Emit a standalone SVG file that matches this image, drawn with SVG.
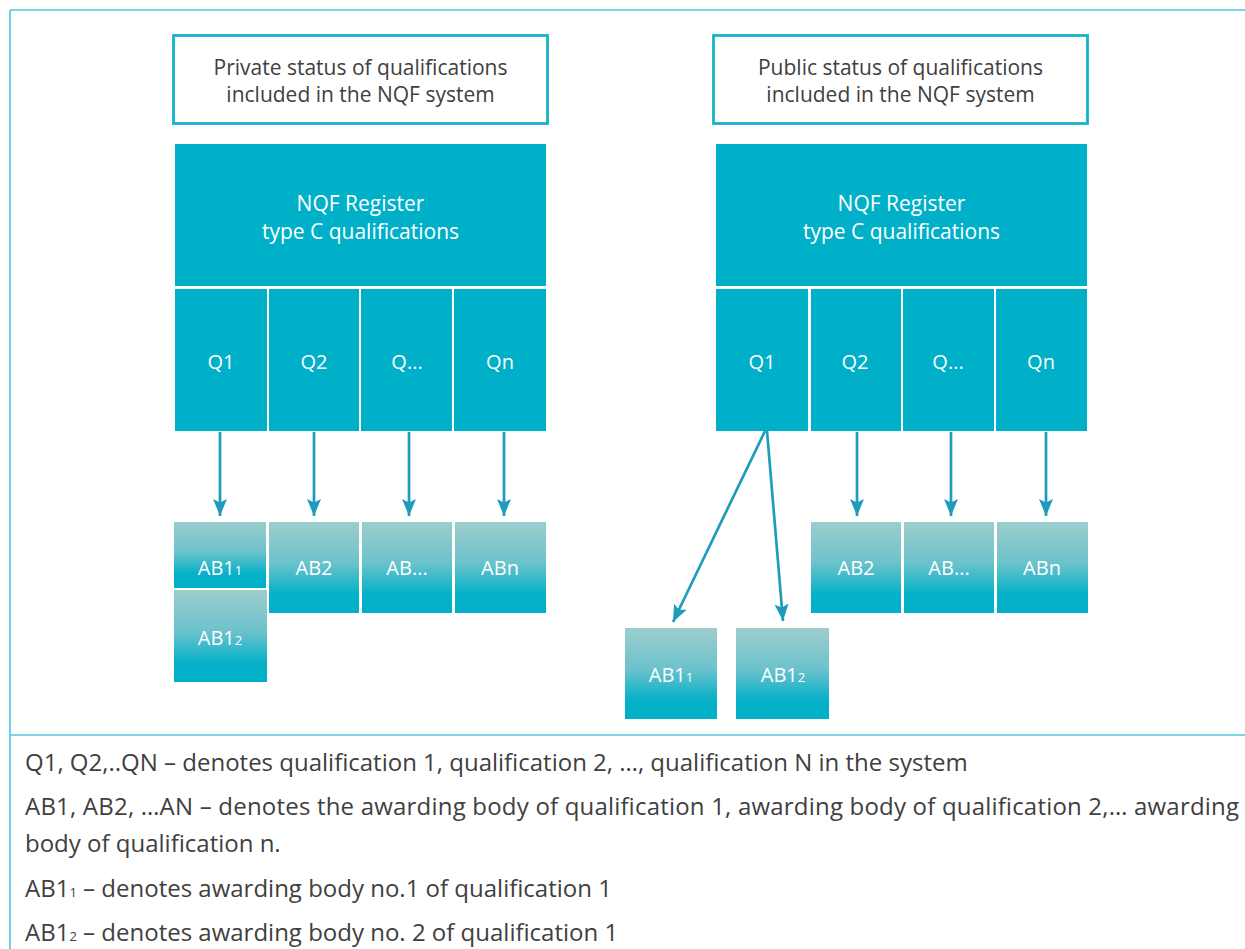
<svg xmlns="http://www.w3.org/2000/svg" width="1245" height="949" viewBox="0 0 1245 949">
  <defs>
    <linearGradient id="abFill" x1="0" y1="0" x2="0" y2="1">
      <stop offset="0" stop-color="#9dcdcd"/>
      <stop offset="0.45" stop-color="#6cc2cc"/>
      <stop offset="0.78" stop-color="#08b1c8"/>
      <stop offset="1" stop-color="#00b0c8"/>
    </linearGradient>
    <marker id="arrowHead" markerUnits="userSpaceOnUse" markerWidth="20" markerHeight="16" viewBox="0 -8 18 16" refX="17" refY="0" orient="auto">
      <path d="M0,-7 L17,0 L0,7 L3.5,0 Z" fill="#1f9bbb"/>
    </marker>
    <style>
      .frame { stroke: #4cc8d8; stroke-width: 1.6; fill: none; }
      .header { fill: #ffffff; stroke: #16b4c9; stroke-width: 2.8; }
      .reg { fill: #00b0c8; }
      .ab { fill: url(#abFill); }
      .dark { font-family: "Open Sans", "Liberation Sans", sans-serif; font-size: 21px; fill: #404040; }
      .title { font-family: "Open Sans", "Liberation Sans", sans-serif; font-size: 21px; fill: #ffffff; }
      .light { font-family: "Open Sans", "Liberation Sans", sans-serif; font-size: 20px; fill: #ffffff; }
      .legend { font-family: "Open Sans", "Liberation Sans", sans-serif; font-size: 24px; fill: #404040; }
      .sub { font-size: 13px; }
      .conn { stroke: #1f9bbb; stroke-width: 2.7; fill: none; marker-end: url(#arrowHead); }
    </style>
  </defs>

  <rect width="1245" height="949" fill="#ffffff"/>

  <!-- outer frame and legend divider -->
  <g id="frame">
    <line class="frame" x1="10" y1="10" x2="1245" y2="10"/>
    <line class="frame" x1="10" y1="10" x2="10" y2="949"/>
    <line class="frame" x1="10" y1="735" x2="1245" y2="735"/>
  </g>

  <!-- private side -->
  <g id="private-header">
    <rect class="header" x="173.5" y="35.5" width="374" height="88"/>
    <text class="dark" text-anchor="middle" x="360.5" y="75">Private status of qualifications</text>
    <text class="dark" text-anchor="middle" x="360.5" y="102">included in the NQF system</text>
  </g>
  <g id="private-register">
    <rect class="reg" x="175" y="144" width="371" height="142"/>
    <text class="title" text-anchor="middle" x="360.5" y="211">NQF Register</text>
    <text class="title" text-anchor="middle" x="360.5" y="239">type C qualifications</text>
  </g>
  <g id="private-q1"><rect class="reg" x="175" y="289" width="92" height="142"/><text class="light" text-anchor="middle" x="221" y="369">Q1</text></g>
  <g id="private-q2"><rect class="reg" x="269" y="289" width="90" height="142"/><text class="light" text-anchor="middle" x="314" y="369">Q2</text></g>
  <g id="private-qdots"><rect class="reg" x="361" y="289" width="91" height="142"/><text class="light" text-anchor="middle" x="407" y="369">Q...</text></g>
  <g id="private-qn"><rect class="reg" x="454" y="289" width="92" height="142"/><text class="light" text-anchor="middle" x="500" y="369">Qn</text></g>

  <g id="private-ab1-1"><rect class="ab" x="174" y="522" width="92" height="66"/><text class="light" text-anchor="middle" x="220" y="575">AB1<tspan class="sub">1</tspan></text></g>
  <g id="private-ab1-2"><rect class="ab" x="174" y="590" width="93" height="92"/><text class="light" text-anchor="middle" x="220" y="645">AB1<tspan class="sub">2</tspan></text></g>
  <g id="private-ab2"><rect class="ab" x="269" y="522" width="90" height="91"/><text class="light" text-anchor="middle" x="314" y="575">AB2</text></g>
  <g id="private-abdots"><rect class="ab" x="362" y="522" width="90" height="91"/><text class="light" text-anchor="middle" x="407" y="575">AB...</text></g>
  <g id="private-abn"><rect class="ab" x="455" y="522" width="91" height="91"/><text class="light" text-anchor="middle" x="500" y="575">ABn</text></g>

  <!-- public side -->
  <g id="public-header">
    <rect class="header" x="713.5" y="35.5" width="374" height="88"/>
    <text class="dark" text-anchor="middle" x="900.5" y="75">Public status of qualifications</text>
    <text class="dark" text-anchor="middle" x="900.5" y="102">included in the NQF system</text>
  </g>
  <g id="public-register">
    <rect class="reg" x="716" y="144" width="371" height="142"/>
    <text class="title" text-anchor="middle" x="901.5" y="211">NQF Register</text>
    <text class="title" text-anchor="middle" x="901.5" y="239">type C qualifications</text>
  </g>
  <g id="public-q1"><rect class="reg" x="716" y="289" width="92" height="142"/><text class="light" text-anchor="middle" x="762" y="369">Q1</text></g>
  <g id="public-q2"><rect class="reg" x="811" y="289" width="90" height="142"/><text class="light" text-anchor="middle" x="855" y="369">Q2</text></g>
  <g id="public-qdots"><rect class="reg" x="903" y="289" width="91" height="142"/><text class="light" text-anchor="middle" x="948" y="369">Q...</text></g>
  <g id="public-qn"><rect class="reg" x="996" y="289" width="91" height="142"/><text class="light" text-anchor="middle" x="1041" y="369">Qn</text></g>

  <g id="public-ab1-1"><rect class="ab" x="625" y="628" width="92" height="91"/><text class="light" text-anchor="middle" x="671" y="682">AB1<tspan class="sub">1</tspan></text></g>
  <g id="public-ab1-2"><rect class="ab" x="736" y="628" width="93" height="91"/><text class="light" text-anchor="middle" x="783" y="682">AB1<tspan class="sub">2</tspan></text></g>
  <g id="public-ab2"><rect class="ab" x="811" y="522" width="90" height="91"/><text class="light" text-anchor="middle" x="856" y="575">AB2</text></g>
  <g id="public-abdots"><rect class="ab" x="904" y="522" width="90" height="91"/><text class="light" text-anchor="middle" x="949" y="575">AB...</text></g>
  <g id="public-abn"><rect class="ab" x="997" y="522" width="91" height="91"/><text class="light" text-anchor="middle" x="1042" y="575">ABn</text></g>

  <!-- connectors -->
  <g id="connectors">
    <line class="conn" x1="220" y1="432" x2="220" y2="516"/>
    <line class="conn" x1="314" y1="432" x2="314" y2="516"/>
    <line class="conn" x1="409" y1="432" x2="409" y2="516"/>
    <line class="conn" x1="504" y1="432" x2="504" y2="516"/>
    <line class="conn" x1="765" y1="431" x2="673" y2="622"/>
    <line class="conn" x1="767" y1="431" x2="783" y2="621"/>
    <line class="conn" x1="857" y1="432" x2="857" y2="516"/>
    <line class="conn" x1="951" y1="432" x2="951" y2="516"/>
    <line class="conn" x1="1046" y1="432" x2="1046" y2="516"/>
  </g>

  <!-- legend -->
  <g id="legend">
    <text class="legend" x="25" y="771">Q1, Q2,..QN – denotes qualification 1, qualification 2, …, qualification N in the system</text>
    <text class="legend" x="25" y="815" textLength="1214" lengthAdjust="spacing">AB1, AB2, …AN – denotes the awarding body of qualification 1, awarding body of qualification 2,… awarding</text>
    <text class="legend" x="25" y="852">body of qualification n.</text>
    <text class="legend" x="25" y="897">AB1<tspan class="sub">1</tspan> – denotes awarding body no.1 of qualification 1</text>
    <text class="legend" x="25" y="941">AB1<tspan class="sub">2</tspan> – denotes awarding body no. 2 of qualification 1</text>
  </g>
</svg>
